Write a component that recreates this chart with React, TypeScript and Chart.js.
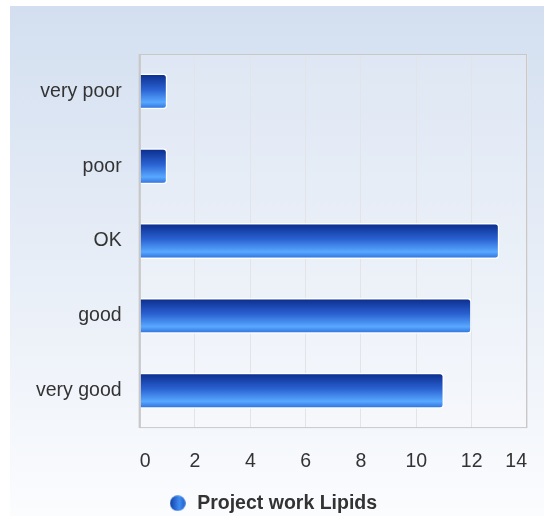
import React, { useEffect, useRef } from "react";
import { Chart, registerables } from "chart.js";

Chart.register(...registerables);

const categories = ["very poor", "poor", "OK", "good", "very good"];
const seriesName = "Project work Lipids";
const seriesValues = [1, 1, 13, 12, 11];
const xTickMax = 14;
const xTickStep = 2;

const FONT = "'Liberation Sans', Arial, sans-serif";

const bgPlugin = {
  id: "bgPlugin",
  beforeDraw(chart: any) {
    const { ctx, width, height, chartArea } = chart;
    ctx.save();
    const g = ctx.createLinearGradient(0, 0, 0, 510);
    g.addColorStop(0, "#d3dff0");
    g.addColorStop(1, "#fbfcfe");
    ctx.fillStyle = g;
    ctx.fillRect(0, 0, width, height);
    ctx.fillStyle = "rgba(255,255,255,0.18)";
    ctx.fillRect(chartArea.left, chartArea.top, chartArea.right - chartArea.left, chartArea.bottom - chartArea.top);
    ctx.restore();
  },
  afterDatasetsDraw(chart: any) {
    const { ctx, chartArea } = chart;
    ctx.save();
    ctx.strokeStyle = "#c8c8c8";
    ctx.lineWidth = 1;
    ctx.strokeRect(chartArea.left + 0.5, chartArea.top + 0.5, chartArea.right - chartArea.left - 1, chartArea.bottom - chartArea.top - 1);
    ctx.lineWidth = 2;
    ctx.beginPath();
    ctx.moveTo(chartArea.left, chartArea.top);
    ctx.lineTo(chartArea.left, chartArea.bottom);
    ctx.stroke();
    ctx.restore();
  },
};

function makeLegendIcon(): HTMLCanvasElement {
  const c = document.createElement("canvas");
  c.width = 16;
  c.height = 16;
  const ctx = c.getContext("2d")!;
  const g = ctx.createLinearGradient(0, 0, 16, 0);
  g.addColorStop(0, "#0f3ea8");
  g.addColorStop(0.6, "#3f8cf0");
  g.addColorStop(1, "#1f5ccc");
  ctx.fillStyle = g;
  ctx.beginPath();
  ctx.arc(8, 8, 7.8, 0, Math.PI * 2);
  ctx.fill();
  return c;
}

const CAT_PCT = 0.8;
const BAR_PCT = 0.6;

function barGradient(context: any) {
  const chart = context.chart;
  const yScale = chart.scales && chart.scales.y;
  if (!yScale || context.dataIndex === undefined) return "#2f6fd8";
  const center = yScale.getPixelForValue(context.dataIndex);
  const catH = (yScale.bottom - yScale.top) / categories.length;
  const half = (catH * CAT_PCT * BAR_PCT) / 2;
  if (!isFinite(center) || !isFinite(half) || half <= 0) return "#2f6fd8";
  const g = chart.ctx.createLinearGradient(0, center - half, 0, center + half);
  g.addColorStop(0, "#0a2a88");
  g.addColorStop(0.45, "#2a62d2");
  g.addColorStop(0.8, "#58a8ff");
  g.addColorStop(1, "#2a6ad8");
  return g;
}

export default function App() {
  const ref = useRef<HTMLCanvasElement>(null);
  useEffect(() => {
    if (!ref.current) return;
    const icon = makeLegendIcon();
    const chart = new Chart(ref.current, {
      type: "bar",
      data: {
        labels: categories,
        datasets: [
          {
            label: seriesName,
            data: seriesValues,
            backgroundColor: barGradient as any,
            borderColor: "#ffffff",
            borderWidth: 1.5,
            borderRadius: 4,
            borderSkipped: "start",
            categoryPercentage: CAT_PCT,
            barPercentage: BAR_PCT,
          },
        ],
      },
      options: {
        indexAxis: "y",
        animation: false,
        responsive: false,
        maintainAspectRatio: false,
        layout: { padding: { left: 8, right: 17, top: 48, bottom: 0 } },
        scales: {
          x: {
            min: 0,
            max: xTickMax,
            ticks: {
              stepSize: xTickStep,
              color: "#333333",
              font: { family: FONT, size: 19.5 },
              padding: 0,
              align: "inner",
            },
            grid: { color: "#e2e4e8", drawTicks: true, tickLength: 22, tickColor: "rgba(0,0,0,0)" },
            border: { display: false },
          },
          y: {
            ticks: {
              color: "#333333",
              font: { family: FONT, size: 19.5 },
              padding: 18,
            },
            grid: { display: false, drawTicks: false },
            border: { display: false },
          },
        },
        plugins: {
          tooltip: { enabled: false },
          legend: {
            position: "bottom",
            labels: {
              usePointStyle: true,
              pointStyle: icon as any,
              color: "#333333",
              font: { family: FONT, size: 19.5, weight: "bold", lineHeight: 1 },
              padding: 20,
            },
          },
        },
      },
      plugins: [bgPlugin],
    });
    return () => chart.destroy();
  }, []);
  return (
    <div style={{ position: "absolute", left: 10, top: 6, width: 534, height: 510, overflow: "hidden" }}>
      <canvas ref={ref} width={534} height={517} style={{ display: "block", width: 534, height: 517 }} />
    </div>
  );
}
